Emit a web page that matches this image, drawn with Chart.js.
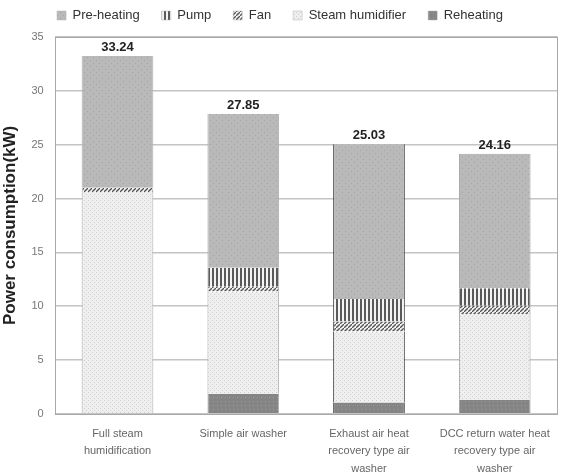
<!DOCTYPE html>
<html>
<head>
<meta charset="utf-8">
<script src="https://cdn.jsdelivr.net/npm/chart.js@4.4.1/dist/chart.umd.min.js"></script>
<style>
  html, body { margin: 0; padding: 0; background: #fff; }
  #wrap { width: 562px; height: 476px; }
</style>
</head>
<body>
<div id="wrap"><canvas id="chart" width="562" height="476"></canvas></div>
<script>
const categories = [
    ['Full steam', 'humidification'],
    ['Simple air washer'],
    ['Exhaust air heat', 'recovery type air', 'washer'],
    ['DCC return water heat', 'recovery type air', 'washer']
]
const reheating = [0, 1.86, 1.05, 1.30]
const steamHumidifier = [20.60, 9.50, 6.60, 7.98]
const fan = [0.40, 0.45, 0.93, 0.75]
const pump = [0, 1.75, 2.08, 1.64]
const preHeating = [12.24, 14.29, 14.37, 12.49]
const totals = [33.24, 27.85, 25.03, 24.16]
const yTicks = [0, 5, 10, 15, 20, 25, 30, 35]

// small canvas textures, like the fill patterns of the original
function makePattern(size, draw) {
    const c = document.createElement('canvas')
    c.width = size
    c.height = size
    const g = c.getContext('2d')
    draw(g, size)
    return g.createPattern(c, 'repeat')
}

const dotsDark = makePattern(6, (g, s) => {
    g.fillStyle = '#b9b9b9'
    g.fillRect(0, 0, s, s)
    g.fillStyle = '#a4a4a4'
    g.fillRect(0, 0, 1, 1)
    g.fillRect(3, 3, 1, 1)
})
const stripes = makePattern(4, (g, s) => {
    g.fillStyle = '#f4f4f4'
    g.fillRect(0, 0, s, s)
    g.fillStyle = '#5a5a5a'
    g.fillRect(0, 0, 2, s)
})
const hatch = makePattern(4, (g, s) => {
    g.fillStyle = '#f0f0f0'
    g.fillRect(0, 0, s, s)
    g.strokeStyle = '#555'
    g.lineWidth = 1.3
    g.beginPath()
    g.moveTo(-1, s + 1)
    g.lineTo(s + 1, -1)
    g.stroke()
})
const dotsLight = makePattern(4, (g, s) => {
    g.fillStyle = '#efefef'
    g.fillRect(0, 0, s, s)
    g.fillStyle = '#cfcfcf'
    g.fillRect(0, 0, 1, 1)
    g.fillRect(2, 2, 1, 1)
})
const dotsReheat = makePattern(4, (g, s) => {
    g.fillStyle = '#858585'
    g.fillRect(0, 0, s, s)
    g.fillStyle = '#9a9a9a'
    g.fillRect(1, 1, 1, 1)
})

const barBorder = ['#b0b0b0', '#b0b0b0', '#333', '#a0a0a0']

function ds(label, data, fill) {
    return {
        label: label,
        data: data,
        backgroundColor: fill,
        borderColor: barBorder,
        borderWidth: { left: 1, right: 1, top: 0, bottom: 0 },
        borderSkipped: false
    }
}

// totals above each stack
const totalLabels = {
    id: 'totalLabels',
    afterDatasetsDraw(chart) {
        const ctx = chart.ctx
        const x = chart.scales.x
        const y = chart.scales.y
        ctx.save()
        ctx.font = 'bold 13px "Liberation Sans", Arial, sans-serif'
        ctx.fillStyle = '#222'
        ctx.textAlign = 'center'
        ctx.textBaseline = 'bottom'
        totals.forEach((t, i) => {
            ctx.fillText(t.toFixed(2), x.getPixelForValue(i), y.getPixelForValue(t) - 2)
        })
        ctx.restore()
    }
}

const plotBox = {
    id: 'plotBox',
    afterDraw(chart) {
        const a = chart.chartArea
        const ctx = chart.ctx
        ctx.save()
        ctx.strokeStyle = '#a8a8a8'
        ctx.lineWidth = 1
        ctx.strokeRect(Math.round(a.left) + 0.5, Math.round(a.top) + 0.5, Math.round(a.right - a.left) - 1, Math.round(a.bottom - a.top))
        ctx.restore()
    }
}

// legend keeps wide gaps between items but takes less height
const legendHeight = {
    id: 'legendHeight',
    beforeInit(chart) {
        const orig = chart.legend.fit
        chart.legend.fit = function() {
            orig.call(this)
            this.height = 50
        }
    }
}

new Chart(document.getElementById('chart'), {
    type: 'bar',
    data: {
        labels: categories,
        datasets: [
            ds('Pre-heating', preHeating, dotsDark),
            ds('Pump', pump, stripes),
            ds('Fan', fan, hatch),
            ds('Steam humidifier', steamHumidifier, dotsLight),
            ds('Reheating', reheating, dotsReheat)
        ].reverse()
    },
    options: {
        responsive: false,
        animation: false,
        layout: { padding: { left: 0, right: 2, top: -13, bottom: -13 } },
        datasets: {
            bar: { categoryPercentage: 1, barPercentage: 0.57 }
        },
        plugins: {
            legend: {
                position: 'top',
                reverse: true,
                labels: {
                    boxWidth: 9,
                    boxHeight: 9,
                    padding: 22,
                    color: '#333',
                    font: { size: 13, family: '"Liberation Sans", Arial, sans-serif' }
                }
            },
            tooltip: { enabled: false }
        },
        scales: {
            x: {
                stacked: true,
                grid: { display: false, drawTicks: false },
                border: { display: false },
                ticks: {
                    color: '#666',
                    padding: 12,
                    maxRotation: 0,
                    font: { size: 11, lineHeight: 1.55, family: '"Liberation Sans", Arial, sans-serif' }
                }
            },
            y: {
                stacked: true,
                min: 0,
                max: 35,
                afterBuildTicks: axis => { axis.ticks = yTicks.map(v => ({ value: v })) },
                grid: { color: '#c4c4c4', drawTicks: false, lineWidth: 1.5 },
                border: { display: false },
                ticks: {
                    color: '#777',
                    padding: 11,
                    font: { size: 11, family: '"Liberation Sans", Arial, sans-serif' }
                },
                title: {
                    display: true,
                    text: 'Power consumption(kW)',
                    color: '#222',
                    padding: { top: 0, bottom: 0 },
                    font: { size: 17, weight: 'bold', family: '"Liberation Sans", Arial, sans-serif' }
                }
            }
        }
    },
    plugins: [totalLabels, plotBox, legendHeight]
})
</script>
</body>
</html>
